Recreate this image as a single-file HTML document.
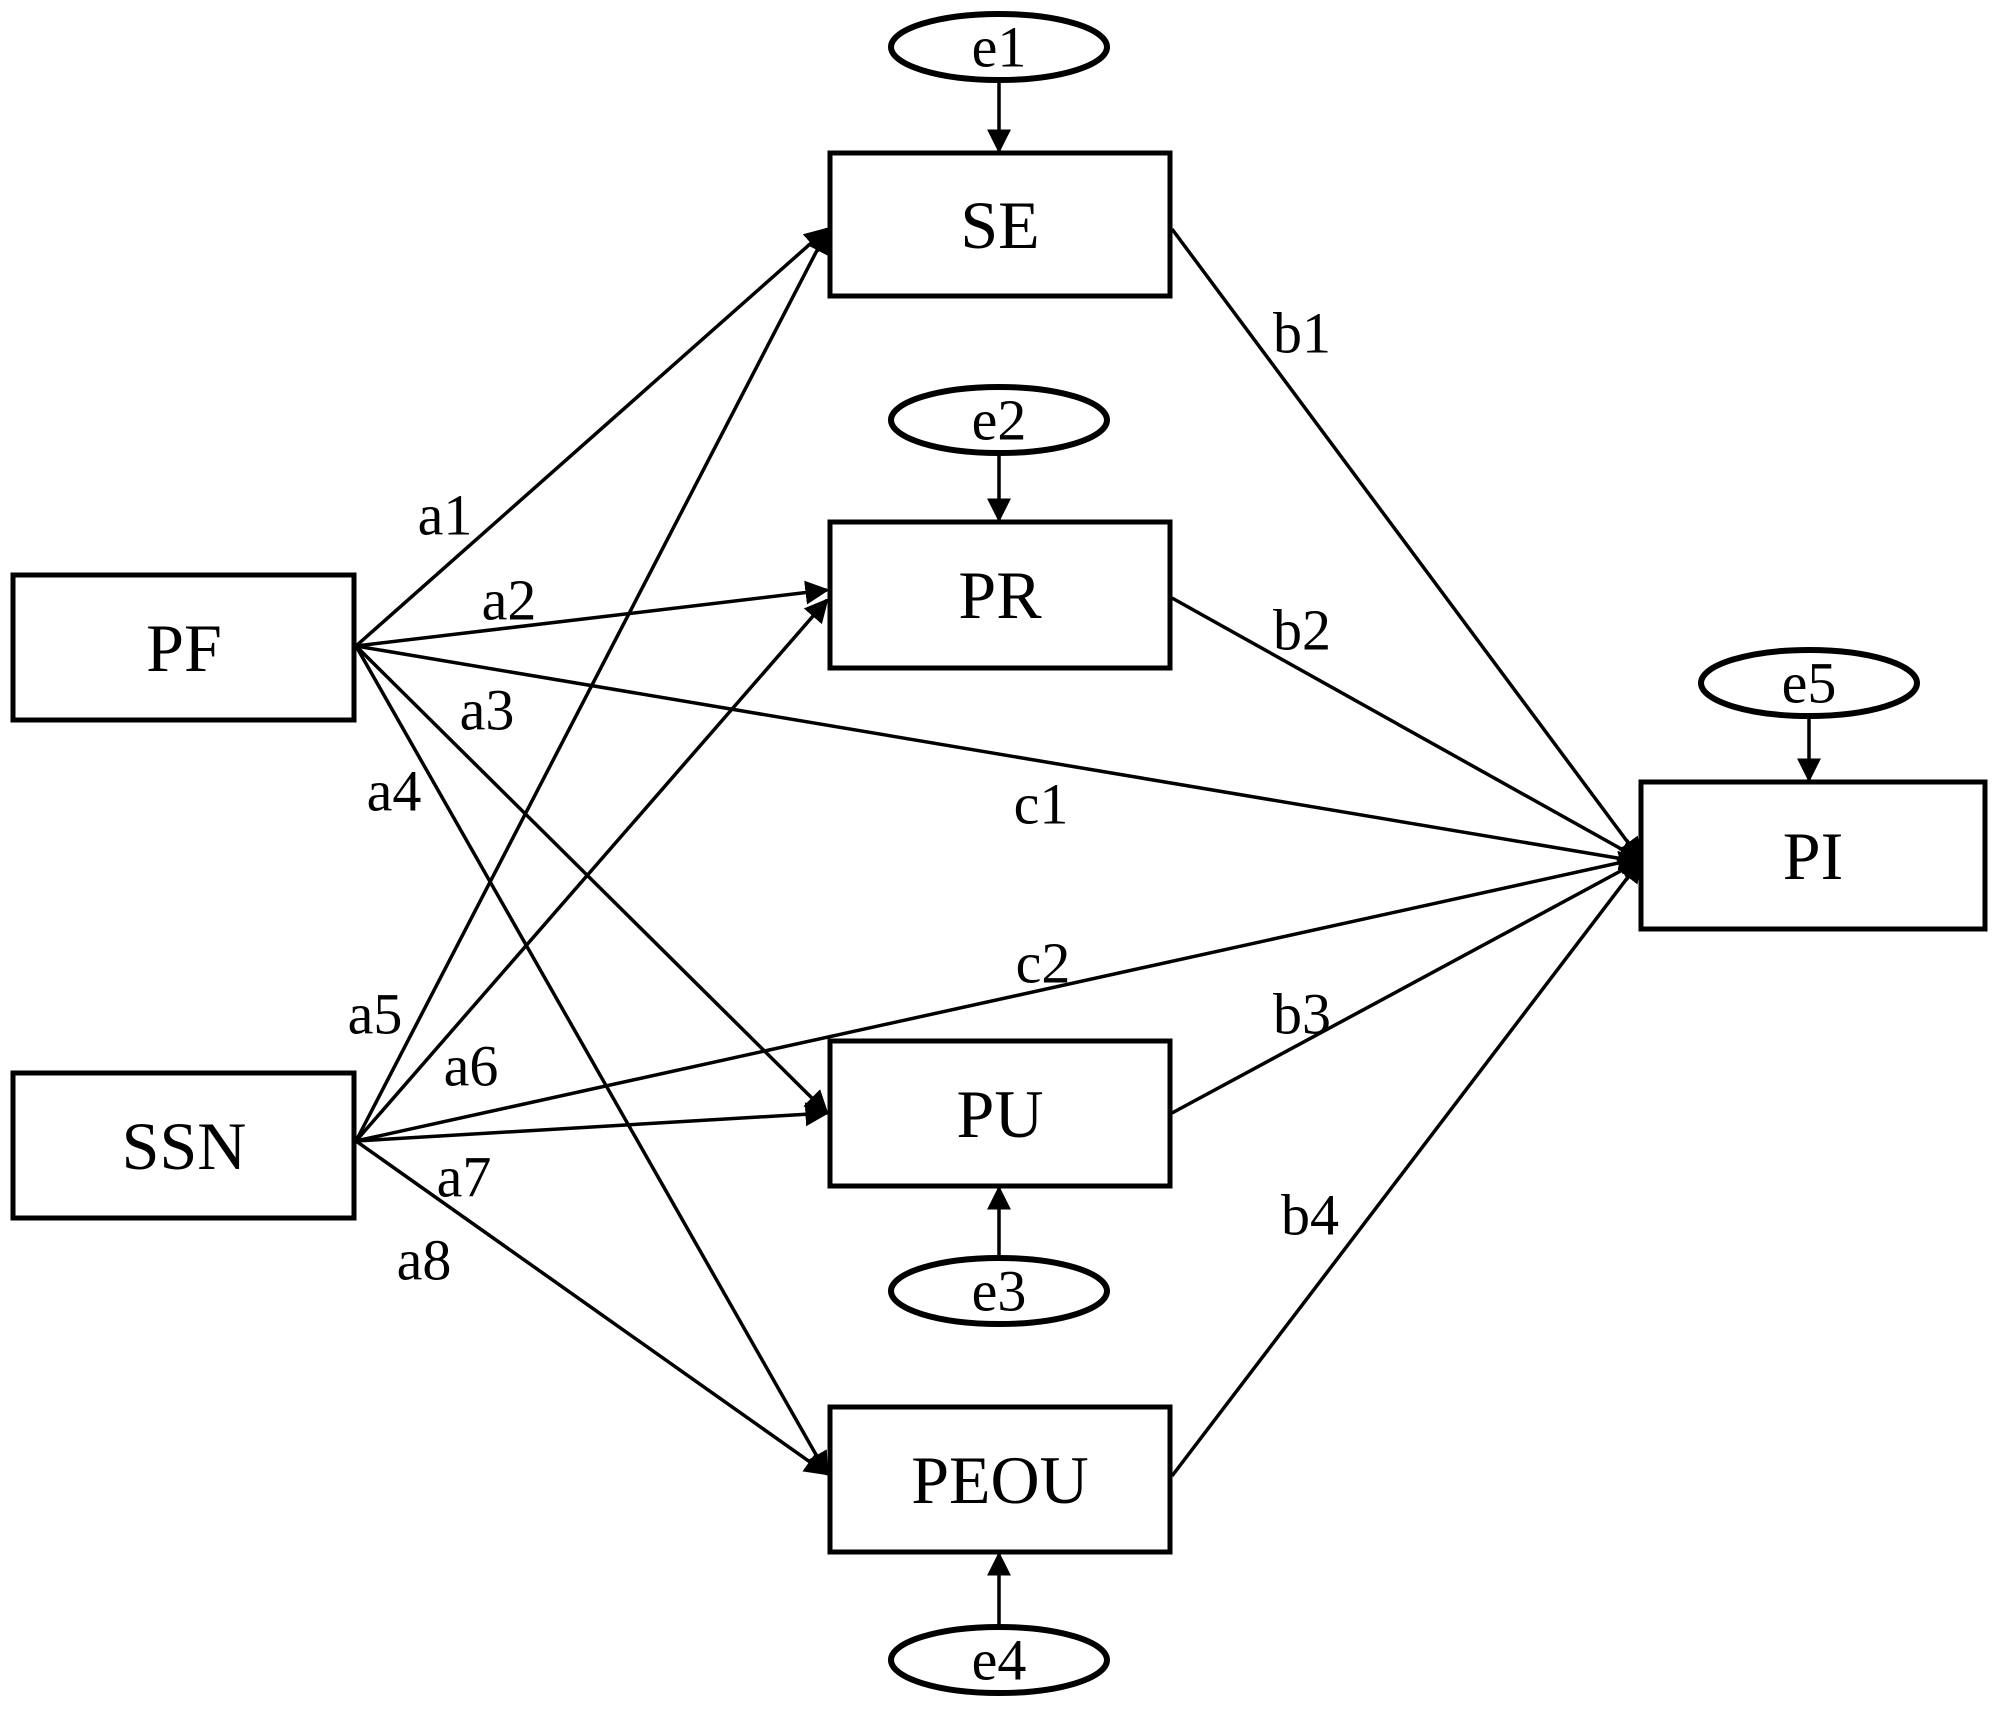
<!DOCTYPE html>
<html><head><style>html,body{margin:0;padding:0;background:#fff}svg{display:block}</style></head>
<body>
<svg width="1995" height="1709" viewBox="0 0 1995 1709" xmlns="http://www.w3.org/2000/svg" font-family="'Liberation Serif', serif">
<defs>
<marker id="a" viewBox="0 0 10 10" refX="9" refY="5" markerWidth="24" markerHeight="24" markerUnits="userSpaceOnUse" orient="auto"><path d="M0,0 L10,5 L0,10 z" fill="#000"/></marker></defs>
<g fill="none" stroke="#000" stroke-width="5">
<rect x="13" y="575" width="341" height="145"/>
<rect x="13" y="1073" width="341" height="145"/>
<rect x="830" y="153" width="340" height="143"/>
<rect x="830" y="522" width="340" height="146"/>
<rect x="830" y="1041" width="340" height="145"/>
<rect x="830" y="1407" width="340" height="145"/>
<rect x="1641" y="782" width="344" height="147"/>
<g stroke-width="6">
<ellipse cx="999" cy="47" rx="108" ry="33"/>
<ellipse cx="999" cy="420" rx="108" ry="33"/>
<ellipse cx="999" cy="1291" rx="108" ry="33"/>
<ellipse cx="999" cy="1660" rx="108" ry="33"/>
<ellipse cx="1809" cy="683" rx="108" ry="33"/>
</g>
</g>
<g stroke="#000" stroke-width="3.5" marker-end="url(#a)">
<line x1="999" y1="80" x2="999" y2="151"/>
<line x1="999" y1="453" x2="999" y2="520"/>
<line x1="999" y1="1258" x2="999" y2="1188"/>
<line x1="999" y1="1627" x2="999" y2="1554"/>
<line x1="1809" y1="716" x2="1809" y2="780"/>
<line x1="356" y1="646" x2="827" y2="229"/>
<line x1="356" y1="646" x2="827" y2="590"/>
<line x1="356" y1="646" x2="827" y2="1113"/>
<line x1="356" y1="646" x2="827" y2="1474"/>
<line x1="356" y1="646" x2="1641" y2="862"/>
<line x1="356" y1="1141" x2="827" y2="231"/>
<line x1="356" y1="1141" x2="827" y2="600"/>
<line x1="356" y1="1141" x2="827" y2="1113"/>
<line x1="356" y1="1141" x2="827" y2="1474"/>
<line x1="356" y1="1141" x2="1641" y2="858"/>
<line x1="1172" y1="229" x2="1641" y2="860"/>
<line x1="1172" y1="598" x2="1641" y2="860"/>
<line x1="1172" y1="1113" x2="1641" y2="860"/>
<line x1="1172" y1="1476" x2="1641" y2="860"/>
</g>
<g font-size="68" text-anchor="middle" dominant-baseline="central">
<text x="184" y="648">PF</text><text x="184" y="1146">SSN</text>
<text x="1000" y="225">SE</text><text x="1000" y="595">PR</text>
<text x="1000" y="1114">PU</text><text x="1000" y="1480">PEOU</text>
<text x="1813" y="856">PI</text>
</g>
<g font-size="58" text-anchor="middle" dominant-baseline="central">
<text x="999" y="47">e1</text><text x="999" y="420">e2</text><text x="999" y="1291">e3</text><text x="999" y="1660">e4</text><text x="1809" y="683">e5</text>
<text x="445" y="515">a1</text><text x="509" y="600">a2</text><text x="487" y="710">a3</text><text x="394" y="791">a4</text>
<text x="375" y="1014">a5</text><text x="471" y="1066">a6</text><text x="464" y="1177">a7</text><text x="424" y="1260">a8</text>
<text x="1302" y="333">b1</text><text x="1302" y="630">b2</text><text x="1302" y="1014">b3</text><text x="1310" y="1215">b4</text>
<text x="1041" y="804">c1</text><text x="1043" y="963">c2</text>
</g>
</svg>
</body></html>
